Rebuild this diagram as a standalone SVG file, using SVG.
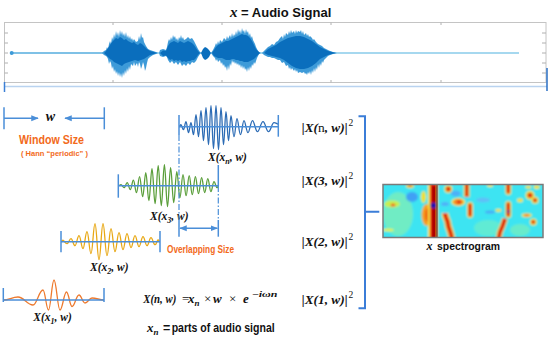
<svg xmlns="http://www.w3.org/2000/svg" width="550" height="339" viewBox="0 0 550 339">
<style>
.guide{stroke:#4a8ed8;stroke-width:1.5;fill:none}
.wave{fill:none;stroke-width:1.3;stroke-linejoin:round}
.dd{stroke:#4a8ed8;stroke-width:1.2;stroke-dasharray:6 2 1.5 2;fill:none}
.math{font-family:"Liberation Serif","Times New Roman",serif;font-weight:bold;font-style:italic;fill:#111}
.up{font-family:"Liberation Serif","Times New Roman",serif;font-weight:normal;font-style:normal;fill:#111}
.sans{font-family:"Liberation Sans",Arial,sans-serif;font-weight:bold}
.or{fill:#f26a1b}
.lt{fill:#3d9ad8}
.dk{fill:#0a6ebd}
.frame{stroke:#c4c4c4;stroke-width:1;fill:none}
</style>
<defs>
<marker id="ah" viewBox="0 0 10 10" refX="9" refY="5" markerWidth="5" markerHeight="5" orient="auto-start-reverse"><path d="M0,1 L10,5 L0,9 Z" fill="#4a8ed8"/></marker>
<filter id="blur" x="-5%" y="-5%" width="110%" height="110%"><feGaussianBlur stdDeviation="0.8"/></filter>
<clipPath id="spc"><rect x="383" y="184.5" width="160" height="53"/></clipPath>
</defs>
<rect width="550" height="339" fill="#fff"/>

<g id="title">
<text x="230" y="17"><tspan class="math" font-size="15">x</tspan><tspan class="sans" font-size="13" fill="#111"> = Audio Signal</tspan></text>
</g>

<g id="audio-signal">
<rect class="frame" x="4.5" y="22.5" width="541.5" height="60"/>
<path stroke="#b0b0b0" stroke-width="1" d="M4.5,33H8M4.5,43H8M4.5,53H8M4.5,63H8M4.5,73H8M546,33H542M546,43H542M546,53H542M546,63H542M546,73H542M113,22.5V25M222,22.5V25M331,22.5V25M441,22.5V25M113,82.5V80M222,82.5V80M331,82.5V80M441,82.5V80"/>
<line x1="12" y1="53" x2="519" y2="53" stroke="#a6d8ef" stroke-width="2"/>
<line x1="12" y1="53" x2="104" y2="53" stroke="#7fc1e6" stroke-width="2"/>
<circle cx="11.7" cy="53" r="2" fill="#3d9ad8"/>
<path class="lt" d="M102,53 L104,51 L106,50 L107,47 L108,49 L109,44 L110,41 L111,44 L112,37 L113,40 L114,34 L115,38 L116,31 L117,36 L118,32 L119,37 L120,30 L121,35 L122,31 L123,36 L124,33 L125,37 L126,32 L127,38 L128,35 L129,39 L130,36 L131,40 L132,38 L133,41 L134,39 L136,42 L138,41 L139,36 L140,40 L141,33 L142,38 L143,37 L144,42 L146,46 L148,49 L150,50 L153,51 L156,52 L158,53 L156,54 L153,55 L150,57 L148,59 L147,63 L146,68 L145,71 L144,65 L143,62 L142,66 L141,69 L140,64 L139,62 L138,67 L137,63 L135,66 L134,62 L133,66 L131,64 L130,70 L129,66 L128,72 L127,68 L126,74 L125,70 L124,76 L123,72 L122,78 L121,73 L120,77 L119,72 L118,76 L117,71 L116,74 L115,69 L114,72 L113,66 L112,69 L111,63 L110,61 L109,64 L108,59 L107,57 L106,56 L104,55 Z"/>
<path class="dk" d="M104,53 L106,51 L108,48 L110,45 L112,42 L114,40 L116,38 L118,39 L120,37 L122,38 L124,40 L126,39 L128,41 L130,42 L132,43 L134,42 L136,44 L138,45 L140,43 L142,44 L144,46 L147,49 L150,51 L154,52 L157,53 L154,54 L150,55 L147,57 L144,59 L141,60 L138,61 L135,60 L132,61 L129,62 L126,63 L124,64 L122,66 L120,65 L118,64 L116,63 L114,62 L112,60 L110,59 L108,57 L106,55 Z"/>
<path class="lt" d="M159,53 L160,50 L163,49 L166,50 L167,47 L168,42 L169,39 L170,41 L171,37 L172,40 L173,35 L174,38 L175,36 L176,40 L177,38 L178,41 L179,37 L180,39 L181,35 L182,39 L183,37 L184,40 L186,39 L188,37 L190,39 L192,38 L194,41 L196,45 L198,49 L200,52 L201,53 L200,54 L198,57 L196,61 L194,63 L192,62 L190,65 L188,63 L186,66 L184,64 L182,66 L180,62 L178,65 L176,62 L174,64 L172,61 L170,63 L168,60 L167,57 L166,56 L163,57 L160,56 Z"/>
<path class="dk" d="M160,53 L163,50.5 L166,51 L168,46 L170,43 L172,42 L174,41 L176,42 L178,43 L180,41 L182,42 L184,43 L186,42 L188,41 L190,42 L192,43 L194,45 L196,48 L198,51 L200,53 L198,55 L196,58 L194,60 L192,60 L190,61 L188,61 L186,62 L184,61 L182,62 L180,60 L178,61 L176,60 L174,61 L172,59 L170,60 L168,58 L166,55.5 L163,56 Z"/>
<path class="dk" d="M201,53 L203,49 L205,47 L207,48 L209,50 L211,53 L209,57 L207,59 L205,60 L203,58 Z"/>
<path class="lt" d="M211,53 L213,50 L215,46 L216,43 L217,45 L218,41 L219,44 L220,40 L222,42 L224,38 L226,40 L227,36 L228,39 L230,35 L231,38 L232,33 L233,37 L234,34 L235,36 L236,31 L237,35 L238,29 L239,33 L240,30 L241,34 L242,28 L243,32 L244,30 L245,34 L246,29 L247,33 L248,31 L249,36 L250,33 L251,38 L252,36 L253,40 L254,42 L255,44 L256,47 L257,49 L258,51 L259,52 L261,53 L259,54 L258,56 L257,58 L256,61 L255,64 L254,62 L253,66 L252,64 L251,69 L250,66 L249,71 L248,67 L247,72 L246,68 L245,70 L244,66 L243,69 L242,65 L241,68 L240,64 L239,66 L238,63 L237,65 L236,62 L235,64 L234,61 L233,63 L232,60 L231,66 L230,63 L229,70 L228,65 L227,71 L226,66 L225,68 L224,64 L223,66 L222,62 L221,64 L220,60 L218,62 L217,59 L216,61 L215,58 L213,56 Z"/>
<path class="dk" d="M212,53 L214,50 L216,47 L218,45 L220,44 L222,43 L224,42 L226,41 L228,41 L230,40 L232,39 L234,38 L236,37 L238,36 L240,35 L242,34 L244,35 L246,35 L248,36 L250,38 L252,41 L254,45 L256,49 L258,51 L260,53 L258,55 L256,57 L254,59 L252,60 L250,61 L248,62 L246,62 L244,62 L242,61 L240,61 L238,60 L236,60 L234,59 L232,59 L230,60 L228,60 L226,60 L224,59 L222,58 L220,58 L218,58 L216,57 L214,56 Z"/>
<path class="lt" d="M262,53 L264,51 L266,49 L268,47 L270,46 L272,44 L274,45 L276,42 L278,41 L280,38 L282,36 L283,39 L284,34 L285,37 L286,33 L288,35 L289,31 L290,34 L291,30 L292,33 L294,31 L295,34 L296,30 L297,33 L298,31 L300,32 L301,30 L302,34 L303,31 L304,35 L306,33 L307,36 L308,34 L309,37 L310,36 L312,38 L313,40 L314,39 L316,42 L318,44 L320,45 L322,46 L324,48 L326,49 L328,50 L330,51 L333,52 L337,53 L333,54 L330,55 L328,56 L326,58 L324,60 L323,63 L322,61 L321,66 L320,63 L319,68 L318,64 L317,70 L316,67 L315,72 L314,68 L313,73 L312,70 L311,75 L310,71 L309,74 L308,72 L307,75 L306,73 L305,74 L304,72 L302,73 L300,72 L298,73 L297,70 L296,72 L295,69 L294,71 L292,68 L291,70 L290,67 L289,69 L288,65 L286,66 L284,62 L282,63 L280,60 L278,60 L276,59 L274,58 L272,58 L270,57 L268,57 L266,56 L264,55 Z"/>
<path class="dk" d="M264,53 L268,49 L272,47 L276,45 L280,42 L284,40 L288,38 L292,37 L296,36 L300,36 L304,37 L308,39 L312,41 L316,44 L320,47 L324,49 L328,51 L332,52 L336,53 L332,54 L328,55 L324,57 L320,59 L316,63 L312,66 L308,68 L304,69 L300,69 L296,68 L292,66 L288,63 L284,60 L280,58 L276,57 L272,56 L268,55 Z"/>
<line x1="4" y1="86.5" x2="547" y2="86.5" stroke="#b9d3f0" stroke-width="1.5"/>
<line x1="4.5" y1="82" x2="4.5" y2="92" stroke="#3a7fd5" stroke-width="1.5"/>
<line x1="547" y1="68" x2="547" y2="91" stroke="#2a6fc5" stroke-width="1.5"/>
</g>

<g id="window-size">
<line class="guide" x1="4" y1="107.3" x2="4" y2="129.3"/>
<line class="guide" x1="104.3" y1="107.3" x2="104.3" y2="129.3"/>
<line class="guide" x1="4" y1="118.3" x2="38" y2="118.3" stroke-width="1.2" marker-end="url(#ah)"/>
<line class="guide" x1="104.3" y1="118.3" x2="65" y2="118.3" stroke-width="1.2" marker-end="url(#ah)"/>
<text class="math" x="50.5" y="121" font-size="14" text-anchor="middle">w</text>
<text class="sans or" x="19" y="144" font-size="12.5" textLength="65" lengthAdjust="spacingAndGlyphs">Window Size</text>
<text class="sans or" x="21" y="155.5" font-size="8" textLength="67" lengthAdjust="spacingAndGlyphs">( Hann  “periodic” )</text>
</g>

<g id="frame-n">
<path class="wave" stroke="#2d6cb5" d="M179,126.7 C179.8,126.7 180.2,124.7 181,124.7 S182.5,129.7 183.5,129.7 S185,121.7 186,121.7 S187.5,132.7 188.5,132.7 S190,122.7 191,122.7 S192.5,134.7 193.5,134.7 S195,114.7 196,114.7 S197.5,136.7 198.5,136.7 S200,110.7 201,110.7 S202.5,140.7 203.5,140.7 S205,107.7 206,107.7 S207.5,144.7 208.5,144.7 S210,105.7 211,105.7 S212.5,148.7 213.5,148.7 S215,105.7 216,105.7 S217.5,149.7 218.5,149.7 S220,107.7 221,107.7 S222.5,144.7 223.5,144.7 S225,111.7 226,111.7 S227.5,140.7 228.5,140.7 S230,115.7 231,115.7 S232.8,136.7 234,136.7 S235.8,118.7 237,118.7 S239.1,134.7 240.5,134.7 S242.6,120.7 244,120.7 S246.4,132.7 248,132.7 S250.7,120.7 252.5,120.7 S255.5,131.7 257.5,131.7 S260.8,121.7 263,121.7 S266.3,131.7 268.5,131.7 S271.8,122.7 274,122.7 S276.6,124 278.3,124"/>
<line class="guide" x1="179" y1="126.7" x2="278.3" y2="126.7"/>
<line class="guide" x1="179" y1="115" x2="179" y2="135"/>
<line class="guide" x1="278.3" y1="115" x2="278.3" y2="136.7"/>
<text class="math" x="208" y="161" font-size="11.5">X(x<tspan dy="2.5" font-size="8">n</tspan><tspan dy="-2.5">, w)</tspan></text>
</g>

<g id="frame-3">
<path class="wave" stroke="#5a9e3a" d="M118.3,185.7 C119.5,185.7 119.8,184.7 121,184.7 S122.9,187.7 124.1,187.7 S126,182.7 127.2,182.7 S129.1,189.7 130.3,189.7 S132.2,180.2 133.4,180.2 S135.3,192.7 136.5,192.7 S138.4,176.7 139.6,176.7 S141.5,196.7 142.7,196.7 S144.6,172.7 145.8,172.7 S147.7,200.7 148.9,200.7 S150.8,168.7 152,168.7 S153.9,203.7 155.1,203.7 S157,165.7 158.2,165.7 S160.1,205.7 161.3,205.7 S163.2,164.7 164.4,164.7 S166.3,206.7 167.5,206.7 S169.4,167.7 170.6,167.7 S172.5,202.7 173.7,202.7 S175.6,171.7 176.8,171.7 S178.7,197.7 179.9,197.7 S181.8,174.7 183,174.7 S184.9,195.7 186.1,195.7 S188,175.7 189.2,175.7 S191.1,194.7 192.3,194.7 S194.2,176.7 195.4,176.7 S197.3,193.7 198.5,193.7 S200.4,177.7 201.6,177.7 S203.5,192.7 204.7,192.7 S206.6,178.7 207.8,178.7 S209.7,191.7 210.9,191.7 S212.8,181.7 214,181.7 S215.9,187.7 217.1,187.7 S217.8,185.7 218.3,185.7"/>
<line class="guide" x1="118.3" y1="185.7" x2="218.3" y2="185.7"/>
<line class="guide" x1="118.3" y1="174.3" x2="118.3" y2="197.7"/>
<line class="guide" x1="218.3" y1="165" x2="218.3" y2="186"/>
<text class="math" x="150" y="220" font-size="11.5">X(x<tspan dy="2.5" font-size="8">3</tspan><tspan dy="-2.5">, w)</tspan></text>
</g>

<g id="frame-2">
<path class="wave" stroke="#e8a815" d="M61,241.7 C61.8,241.7 62.2,240.2 63,240.2 S65.4,243.7 67,243.7 S69.4,238.7 71,238.7 S73.4,245.7 75,245.7 S77.4,235.7 79,235.7 S81.4,248.7 83,248.7 S85.4,231.7 87,231.7 S89.4,253.7 91,253.7 S93.4,223.7 95,223.7 S97.4,259.7 99,259.7 S101.4,223.7 103,223.7 S105.4,255.7 107,255.7 S109.4,228.7 111,228.7 S113.4,251.7 115,251.7 S117.4,232.7 119,232.7 S121.4,249.7 123,249.7 S125.4,233.7 127,233.7 S129.4,247.7 131,247.7 S133.4,235.7 135,235.7 S137.4,246.7 139,246.7 S141.4,236.7 143,236.7 S145.4,245.7 147,245.7 S149.4,237.7 151,237.7 S153.4,244.7 155,244.7 S157,240 158,240 S159.5,241.7 160,241.7"/>
<line class="guide" x1="61" y1="241.7" x2="160" y2="241.7"/>
<line class="guide" x1="61" y1="231" x2="61" y2="252.3"/>
<line class="guide" x1="160" y1="231" x2="160" y2="252.3"/>
<text class="math" x="90" y="271" font-size="11.5">X(x<tspan dy="2.5" font-size="8">2</tspan><tspan dy="-2.5">, w)</tspan></text>
</g>

<g id="frame-1">
<path class="wave" stroke="#ee7a2e" d="M3.3,300 C9,300 12,297 18,297 C24,297 27,305 33,305 C37,305 39,290 43,290 C45.2,290 46.3,310 48.5,310 C50.7,310 51.8,280 54,280 C56.4,280 57.6,310 60,310 C62.6,310 63.9,292 66.5,292 C68.7,292 69.8,306.5 72,306.5 C74.8,306.5 76.2,295 79,295 C81.4,295 82.6,303 85,303 C87.8,303 89.2,298 92,298 C96.8,298 99.2,300 104,300"/>
<line class="guide" x1="3.3" y1="300" x2="104" y2="300"/>
<line class="guide" x1="3.3" y1="288" x2="3.3" y2="302"/>
<line class="guide" x1="104" y1="288" x2="104" y2="302"/>
<text class="math" x="33.3" y="321" font-size="11.5">X(x<tspan dy="2.5" font-size="8">1</tspan><tspan dy="-2.5">, w)</tspan></text>
</g>

<g id="overlap">
<line class="guide" x1="179" y1="220" x2="179" y2="236.7"/>
<line class="guide" x1="218.3" y1="220" x2="218.3" y2="236.7"/>
<line class="guide" x1="180" y1="228.3" x2="217.3" y2="228.3" stroke-width="1.2" marker-start="url(#ah)" marker-end="url(#ah)"/>
<text class="sans or" x="167" y="253" font-size="10.5" textLength="67" lengthAdjust="spacingAndGlyphs">Overlapping Size</text>
</g>

<g id="formula">
<text class="math" x="143.3" y="303.3" font-size="13" textLength="33" lengthAdjust="spacingAndGlyphs">X(n, w)</text>
<text class="up" x="182" y="303.3" font-size="13">=</text>
<text class="math" x="188" y="303.3" font-size="13">x<tspan dy="2.5" font-size="9">n</tspan></text>
<text class="up" x="204" y="303.3" font-size="13">×</text>
<text class="math" x="213" y="303.3" font-size="13">w</text>
<text class="up" x="229" y="303.3" font-size="13">×</text>
<text class="math" x="243" y="303.3" font-size="13">e</text>
<text class="math" x="251.5" y="297" font-size="8.5" textLength="26" lengthAdjust="spacingAndGlyphs">−iωn</text>
</g>

<g id="xn-definition">
<text class="math" x="147" y="332" font-size="13">x<tspan dy="2.5" font-size="9">n</tspan></text>
<text class="sans" x="163" y="332" font-size="12.5" fill="#111">=</text>
<text class="sans" x="171.7" y="332" font-size="12.5" fill="#111" textLength="103" lengthAdjust="spacingAndGlyphs">parts of audio signal</text>
</g>

<g id="magnitudes">
<text class="math" x="301.7" y="131.7" font-size="13" textLength="46" lengthAdjust="spacingAndGlyphs">|X(<tspan class="up">n</tspan>, w)|</text>
<text class="up" x="348.5" y="126" font-size="9.5">2</text>
<text class="math" x="301.7" y="185" font-size="13" textLength="46" lengthAdjust="spacingAndGlyphs">|X(3, w)|</text>
<text class="up" x="348.5" y="179.3" font-size="9.5">2</text>
<text class="math" x="301.7" y="245.7" font-size="13" textLength="46" lengthAdjust="spacingAndGlyphs">|X(2, w)|</text>
<text class="up" x="348.5" y="240" font-size="9.5">2</text>
<text class="math" x="301.7" y="304" font-size="13" textLength="46" lengthAdjust="spacingAndGlyphs">|X(1, w)|</text>
<text class="up" x="348.5" y="298.3" font-size="9.5">2</text>
</g>

<g id="spectrogram">
<g clip-path="url(#spc)">
<g filter="url(#blur)">
<rect x="380" y="182" width="166" height="58" fill="#3ee4f2"/>
<ellipse cx="398" cy="214" rx="15" ry="22" fill="#85f0b0" opacity="0.7"/>
<ellipse cx="488" cy="228" rx="14" ry="8" fill="#78f0c0" opacity="0.6"/>
<ellipse cx="520" cy="230" rx="10" ry="6" fill="#85f0b0" opacity="0.6"/>
<ellipse cx="412" cy="197" rx="6" ry="5" fill="#3fa0f5"/>
<ellipse cx="455.7" cy="193.5" rx="5" ry="3" fill="#50b0f8"/>
<ellipse cx="483" cy="200" rx="7" ry="2.5" fill="#5ec0f8"/>
<ellipse cx="445" cy="204" rx="4" ry="2" fill="#50b0f8"/>
<ellipse cx="490" cy="212" rx="5" ry="1.5" fill="#4aa8f5"/>
<ellipse cx="392" cy="204" rx="8" ry="3.5" fill="#c8f050"/>
<ellipse cx="393" cy="205" rx="2.5" ry="1.5" fill="#f06020"/>
<ellipse cx="388" cy="230" rx="6" ry="1.5" fill="#e8f040"/>
<ellipse cx="410" cy="186" rx="4" ry="2" fill="#f0d020"/>
<circle cx="410" cy="185.5" r="1.2" fill="#e03010"/>
<ellipse cx="423.5" cy="197" rx="2.5" ry="6" fill="#f0e030"/>
<ellipse cx="426.5" cy="215" rx="5" ry="11" fill="#f8a020"/>
<ellipse cx="428" cy="215" rx="3" ry="7" fill="#f06010"/>
<rect x="428" y="182" width="10" height="58" fill="#f0e040"/>
<rect x="430" y="182" width="7" height="58" fill="#e82010"/>
<rect x="432" y="186" width="4" height="54" fill="#a80000"/>
<circle cx="433.5" cy="205.5" r="3" fill="#1818b0"/>
<path d="M445,213 C445,218 448,220 448,224 C448,228 451,230 452,240" fill="none" stroke="#f0e040" stroke-width="7"/>
<path d="M445,213 C445,218 448,220 448,224 C448,228 451,230 452,240" fill="none" stroke="#f88020" stroke-width="5"/>
<path d="M445,213 C445,218 448,220 448,224 C448,228 451,230 452,240" fill="none" stroke="#d81808" stroke-width="3"/>
<circle cx="448.3" cy="189" r="4" fill="#f0e040"/>
<circle cx="448.3" cy="189" r="2.5" fill="#e02010"/>
<line x1="466.7" y1="182" x2="466.7" y2="197" stroke="#f0e040" stroke-width="6"/>
<line x1="466.7" y1="182" x2="466.7" y2="197" stroke="#e02010" stroke-width="3.5"/>
<ellipse cx="458.3" cy="202" rx="7" ry="4" fill="#f0e040"/>
<ellipse cx="458.3" cy="202" rx="5" ry="3" fill="#f88020"/>
<ellipse cx="459" cy="202" rx="2" ry="1.5" fill="#e02010"/>
<line x1="470" y1="205" x2="470" y2="215" stroke="#f0e040" stroke-width="6" stroke-linecap="round"/>
<line x1="470" y1="205" x2="470" y2="215" stroke="#e02010" stroke-width="3.5" stroke-linecap="round"/>
<line x1="508.3" y1="182" x2="508.3" y2="192" stroke="#f0e040" stroke-width="6" stroke-linecap="round"/>
<line x1="508.3" y1="182" x2="508.3" y2="192" stroke="#e02010" stroke-width="3.5" stroke-linecap="round"/>
<line x1="508.3" y1="204" x2="508.3" y2="215" stroke="#f0e040" stroke-width="6" stroke-linecap="round"/>
<line x1="508.3" y1="204" x2="508.3" y2="215" stroke="#e02010" stroke-width="3.5" stroke-linecap="round"/>
<circle cx="508.3" cy="211.5" r="1.3" fill="#2020c0"/>
<path d="M505,218.7 C504,222 503,226 500,232 L498.3,240" fill="none" stroke="#f0e040" stroke-width="6"/>
<path d="M505,218.7 C504,222 503,226 500,232 L498.3,240" fill="none" stroke="#f88020" stroke-width="4.5"/>
<path d="M505,218.7 C504,222 503,226 500,232 L498.3,240" fill="none" stroke="#d81808" stroke-width="3"/>
<circle cx="530" cy="195.3" r="4.5" fill="#f0e040"/>
<circle cx="530" cy="195.3" r="2.5" fill="#e02010"/>
<circle cx="535" cy="200.3" r="3.5" fill="#f0e040"/>
<circle cx="535" cy="200.3" r="2" fill="#e02010"/>
<ellipse cx="526.7" cy="215.3" rx="5" ry="2" fill="#f0e040"/>
<ellipse cx="526.7" cy="215.3" rx="3" ry="1.2" fill="#f88020"/>
<circle cx="533.3" cy="222" r="3.5" fill="#f0e040"/>
<circle cx="533.3" cy="222" r="2" fill="#e02010"/>
<ellipse cx="520" cy="200.3" rx="3" ry="2" fill="#f0e040"/>
<ellipse cx="528.3" cy="187" rx="3" ry="1.5" fill="#f0e040"/>
<ellipse cx="536.7" cy="187" rx="3" ry="2" fill="#f0e040"/>
<ellipse cx="490" cy="185.5" rx="3" ry="1.5" fill="#f0e040"/>
<ellipse cx="498.3" cy="210.3" rx="3" ry="1.5" fill="#f0e040"/>
</g>
<line x1="437" y1="184" x2="437" y2="238" stroke="#400000" stroke-width="0.8"/>
</g>
<rect x="383" y="184.5" width="160" height="53" fill="none" stroke="#7a7a7a" stroke-width="1.5"/>
<text x="426.5" y="250"><tspan class="math" font-size="12">x</tspan><tspan class="sans" font-size="11.5" fill="#111" x="437" textLength="63" lengthAdjust="spacingAndGlyphs">spectrogram</tspan></text>
</g>

<g id="connectors">
<line class="dd" x1="179" y1="135" x2="179" y2="220"/>
<line class="dd" x1="218.3" y1="186" x2="218.3" y2="220"/>
<path d="M358.5,116.3 H365 V308.3 H358.5 M365,211.7 H379.3" fill="none" stroke="#3b7dd8" stroke-width="2"/>
</g>
</svg>
